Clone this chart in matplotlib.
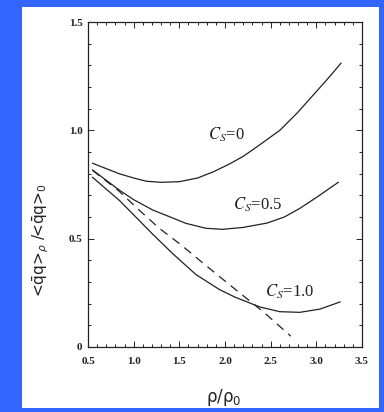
"""Quark condensate ratio vs density for several C_S values."""
import matplotlib
matplotlib.use("Agg")
import matplotlib.pyplot as plt
from matplotlib.patches import Rectangle
from matplotlib.ticker import MultipleLocator

# curves read as (rho/rho0, ratio)
cs0_x = [0.55, 0.84, 1.0, 1.14, 1.3, 1.5, 1.7, 1.88, 2.05, 2.2, 2.35, 2.6, 2.79, 2.96, 3.15, 3.27]
cs0_y = [0.848, 0.80, 0.78, 0.765, 0.76, 0.763, 0.78, 0.81, 0.845, 0.88, 0.924, 1.0, 1.08, 1.16, 1.25, 1.31]

cs05_x = [0.55, 0.84, 1.0, 1.21, 1.4, 1.57, 1.79, 1.97, 2.2, 2.46, 2.65, 2.82, 3.0, 3.24]
cs05_y = [0.817, 0.725, 0.68, 0.632, 0.60, 0.571, 0.548, 0.543, 0.552, 0.572, 0.60, 0.64, 0.69, 0.76]

cs1_x = [0.55, 0.84, 1.0, 1.21, 1.43, 1.68, 1.94, 2.11, 2.38, 2.6, 2.82, 3.04, 3.26]
cs1_y = [0.783, 0.678, 0.61, 0.52, 0.43, 0.335, 0.265, 0.23, 0.185, 0.163, 0.16, 0.175, 0.208]

lin_x = [0.55, 0.825, 1.06, 1.28, 1.52, 1.74, 1.96, 2.19, 2.44, 2.72]
lin_y = [0.815, 0.725, 0.632, 0.548, 0.471, 0.394, 0.318, 0.24, 0.155, 0.05]

# curve labels: (text, x, y)
labels = [("$C_S$=0", 1.81, 0.98), ("$C_S$=0.5", 2.09, 0.655), ("$C_S$=1.0", 2.44, 0.254)]

x_ticks = [0.5, 1.0, 1.5, 2.0, 2.5, 3.0, 3.5]
y_ticks = [0, 0.5, 1.0, 1.5]
y_ticklabels = ["0", "0.5", "1.0", "1.5"]

BG = "#3366ff"
INK = "#222222"


def main():
    plt.rcParams["font.family"] = ["Liberation Serif", "DejaVu Serif"]
    plt.rcParams["mathtext.fontset"] = "stix"

    fig = plt.figure(figsize=(3.84, 4.12), dpi=100, facecolor=BG)
    fig.patches.append(Rectangle((22 / 384, 4 / 412), 357 / 384, 401 / 412,
                                 transform=fig.transFigure, facecolor="white",
                                 edgecolor="none", zorder=-5))

    ax = fig.add_axes([88 / 384, 65 / 412, 274 / 384, 325 / 412])
    ax.set_facecolor("white")
    ax.plot(cs0_x, cs0_y, color=INK, lw=0.9)
    ax.plot(cs05_x, cs05_y, color=INK, lw=0.9)
    ax.plot(cs1_x, cs1_y, color=INK, lw=0.9)
    ax.plot(lin_x, lin_y, color=INK, lw=0.9, dashes=(7, 5))

    for txt, x, y in labels:
        ax.text(x, y, txt, fontsize=12, color=INK, va="center", ha="left")

    ax.set_xlim(0.5, 3.5)
    ax.set_ylim(0, 1.5)
    ax.set_xticks(x_ticks)
    ax.set_xticklabels([f"{v:.1f}" for v in x_ticks])
    ax.set_yticks(y_ticks)
    ax.set_yticklabels(y_ticklabels)
    ax.xaxis.set_minor_locator(MultipleLocator(0.1))
    ax.yaxis.set_minor_locator(MultipleLocator(0.1))
    ax.tick_params(which="both", direction="in", top=True, right=True,
                   labelsize=8, colors=INK, width=0.7)
    ax.tick_params(which="major", length=4)
    ax.tick_params(which="minor", length=2)
    ax.tick_params(axis="x", which="major", pad=7)
    ax.tick_params(axis="y", which="major", pad=4)
    for lab in ax.get_xticklabels() + ax.get_yticklabels():
        lab.set_fontweight("bold")
    for sp in ax.spines.values():
        sp.set_linewidth(0.9)
        sp.set_color(INK)

    fig.text(224 / 384, 1 - 397 / 412, "ρ/ρ$_0$", fontsize=12, color=INK,
             ha="center", va="center", family="DejaVu Sans",
             math_fontfamily="dejavusans")
    fig.text(40 / 384, 1 - 240 / 412, "<q\u0304q>$_\\rho$ /<q\u0304q>$_0$",
             fontsize=11, color=INK, ha="center", va="center", rotation=90,
             family="DejaVu Sans", math_fontfamily="dejavusans")

    fig.savefig("out.png", dpi=100, facecolor=BG)
    plt.close(fig)


if __name__ == "__main__":
    main()
